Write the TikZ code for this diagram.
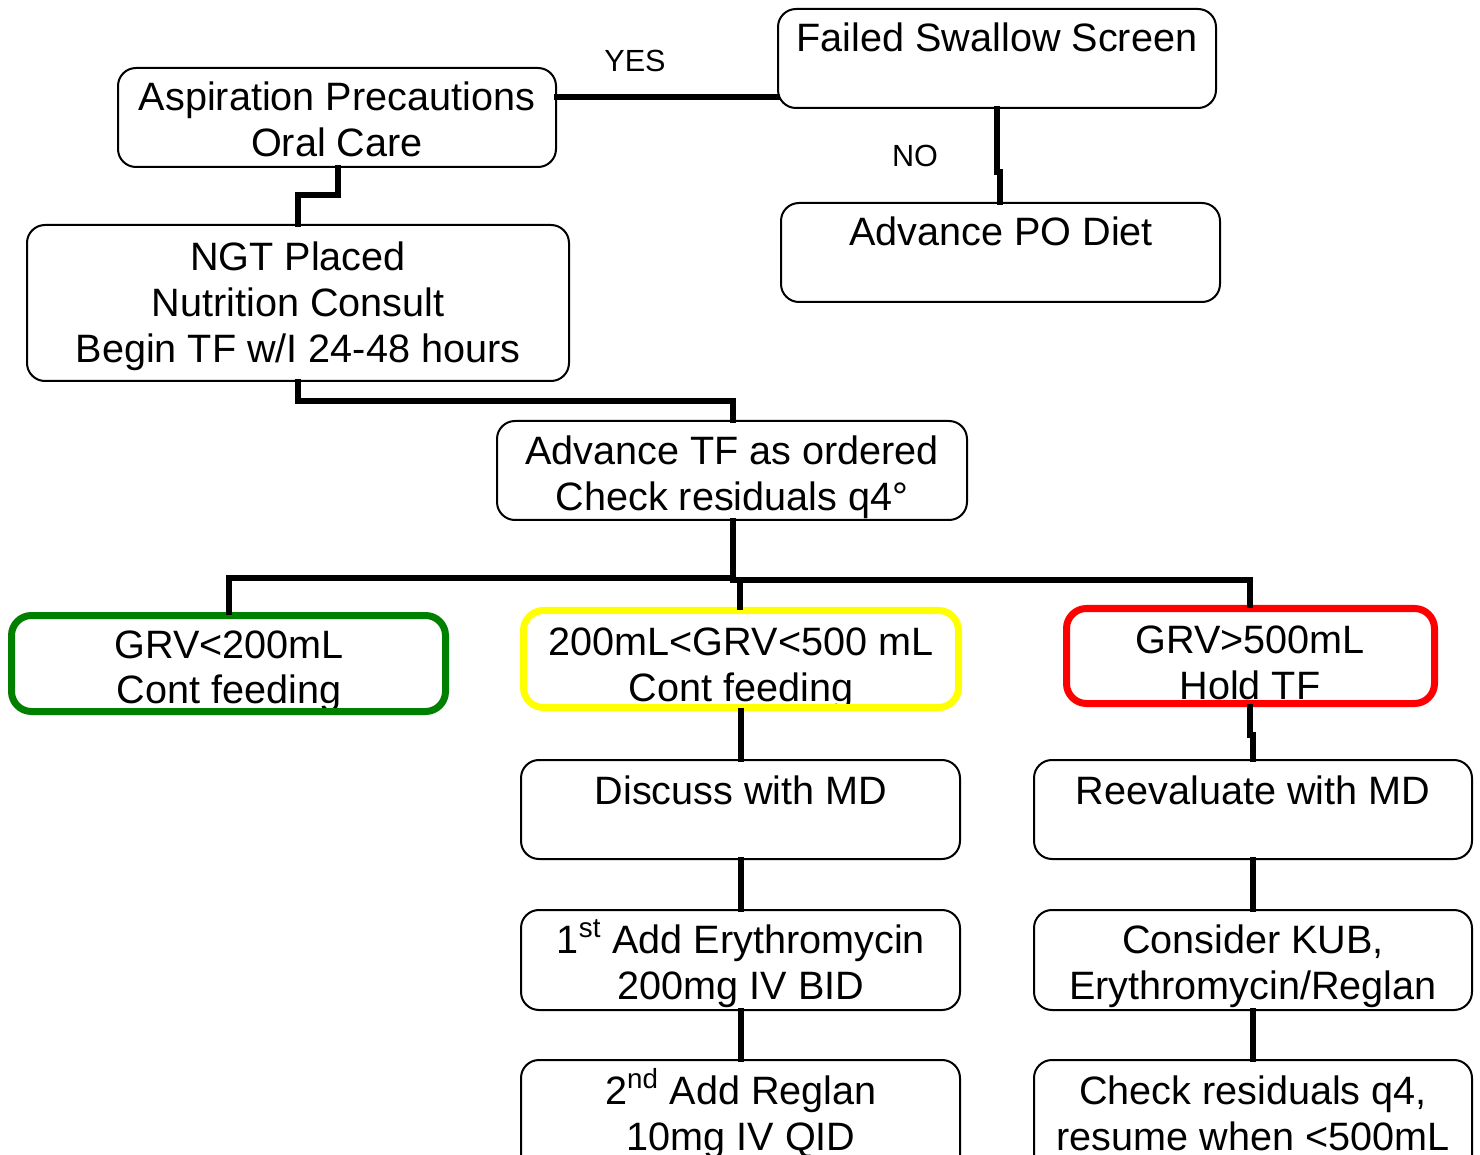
\documentclass[tikz,border=0pt]{standalone}
\usepackage{fontspec}
\setmainfont{Liberation Sans}
\usetikzlibrary{fit}
\definecolor{grvgreen}{RGB}{0,128,0}
\definecolor{grvyellow}{RGB}{255,255,0}
\definecolor{grvred}{RGB}{255,0,0}
\tikzset{
  box/.style={draw, rounded corners=9pt, line width=1pt, inner sep=0pt},
  cbox/.style={draw, rounded corners=10pt, line width=3.5pt, inner sep=0pt},
  txt/.style={align=center, font=\fontsize{19.8}{23}\selectfont, inner sep=0pt, anchor=base},
  lbl/.style={font=\fontsize{15.3}{18}\selectfont, inner sep=0pt, anchor=base},
  conn/.style={line width=2.8pt, line cap=rect, line join=miter},
}
\begin{document}
\begin{tikzpicture}[x=0.5pt,y=-0.5pt]
\useasboundingbox[fill=white] (0,0) rectangle (1480,1155);
% boxes
\node[box, fit={(778,9) (1216,108)}] (fss) {};
\node[box, fit={(118,68) (556,167)}] (asp) {};
\node[box, fit={(781,203) (1220,302)}] (po) {};
\node[box, fit={(27,225) (569,381)}] (ngt) {};
\node[box, fit={(497,421) (967,520)}] (tf) {};
\node[box, fit={(521,760) (960,859)}] (disc) {};
\node[box, fit={(1034,760) (1472,859)}] (reev) {};
\node[box, fit={(521,910) (960,1010)}] (ery) {};
\node[box, fit={(1034,910) (1472,1010)}] (kub) {};
\node[box, fit={(521,1060) (960,1190)}] (reg) {};
\node[box, fit={(1034,1060) (1472,1190)}] (chk) {};
% texts (anchor base = baseline of the last line)
\node[txt] (tfss) at (997,52) {Failed Swallow Screen};
\node[txt] (tasp) at (337,157) {Aspiration Precautions\\Oral Care};
\node[txt] (tpo) at (1001,246) {Advance PO Diet};
\node[txt] (tngt) at (298,363) {NGT Placed\\Nutrition Consult\\Begin TF w/I 24-48 hours};
\node[txt] (ttf) at (732,510) {Advance TF as ordered\\Check residuals q4°};
\node[txt] (tdisc) at (741,804) {Discuss with MD};
\node[txt] (treev) at (1253,804) {Reevaluate with MD};
\node[txt] (tery) at (741,999) {1\textsuperscript{st} Add Erythromycin\\200mg IV BID};
\node[txt] (tkub) at (1253,999) {Consider KUB,\\Erythromycin/Reglan};
\node[txt] (treg) at (741,1150) {2\textsuperscript{nd} Add Reglan\\10mg IV QID};
\node[txt] (tchk) at (1253,1150) {Check residuals q4,\\resume when <500mL};
% coloured boxes with clipped text
\begin{scope}
\clip[rounded corners=8pt] (15,619) rectangle (442,708);
\node[txt] (tgrn) at (229,704) {GRV<200mL\\Cont feeding};
\end{scope}
\begin{scope}
\clip[rounded corners=8pt] (527,614) rectangle (955,704);
\node[txt] (tyel) at (741,701) {200mL<GRV<500 mL\\Cont feeding};
\end{scope}
\begin{scope}
\clip[rounded corners=8pt] (1070,612) rectangle (1431,700);
\node[txt] (tred) at (1250,699) {GRV>500mL\\Hold TF};
\end{scope}
\node[cbox, draw=grvgreen, fit={(11.5,615.5) (445.5,711.5)}] (grn) {};
\node[cbox, draw=grvyellow, fit={(523.5,610.5) (958.5,707.5)}] (yel) {};
\node[cbox, draw=grvred, fit={(1066.5,608.5) (1434.5,703.5)}] (red) {};
% labels
\node[lbl] (yes) at (635,72) {YES};
\node[lbl] (no) at (915,167) {NO};
% junction coordinates
\coordinate (jy) at (667,97);
\coordinate (jn) at (997,172);
\coordinate (ja) at (338,195);
\coordinate (jb) at (298,401);
\coordinate (jc) at (733,578);
\coordinate (jd) at (1250,735);
% connectors
\draw[conn] (jy -| asp.east) -- (jy -| fss.west);
\draw[conn] (jn |- fss.south) -- (jn) -- (1000,172) -- (1000,203 |- po.north);
\draw[conn] (ja |- asp.south) -- (ja) -- (298,195) -- (298,225 |- ngt.north);
\draw[conn] (jb |- ngt.south) -- (jb) -- (733,401) -- (733,421 |- tf.north);
\draw[conn] (jc |- tf.south) -- (jc);
\draw[conn] (229,578) -- (733,578) -- (733,580) -- (1250,580);
\draw[conn] (229,578) -- (229,612 |- grn.north);
\draw[conn] (740,580) -- (740,607 |- yel.north);
\draw[conn] (1250,580) -- (1250,605 |- red.north);
\draw[conn] (jd |- red.south) -- (jd) -- (1253,735) -- (1253,760 |- reev.north);
\draw[conn] (741,707 |- yel.south) -- (741,760 |- disc.north);
\draw[conn] (741,859 |- disc.south) -- (741,910 |- ery.north);
\draw[conn] (741,1010 |- ery.south) -- (741,1060 |- reg.north);
\draw[conn] (1253,859 |- reev.south) -- (1253,910 |- kub.north);
\draw[conn] (1253,1010 |- kub.south) -- (1253,1060 |- chk.north);
\end{tikzpicture}
\end{document}
